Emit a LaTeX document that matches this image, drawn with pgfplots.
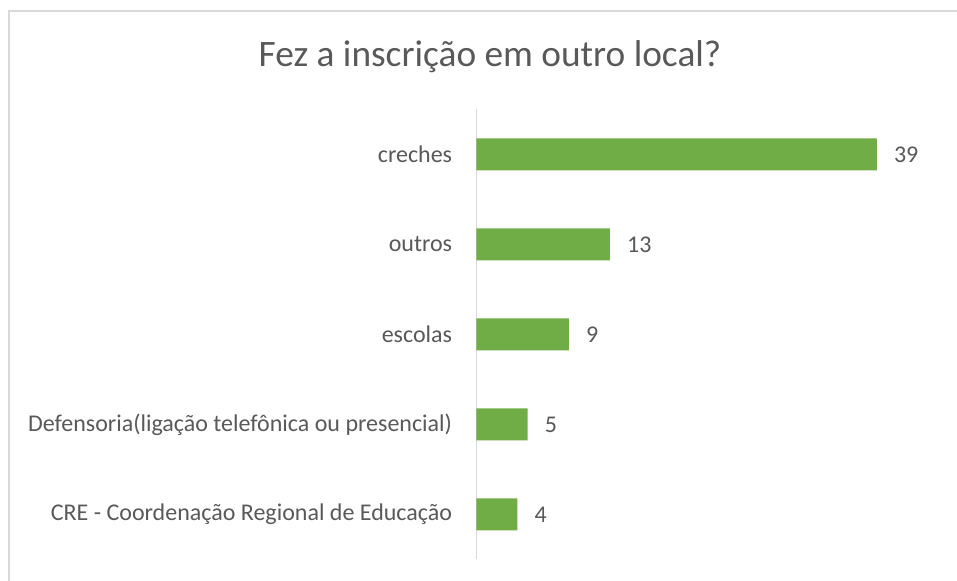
\documentclass[border=0pt]{standalone}
\usepackage{fontspec}
\setmainfont{Carlito}
\usepackage{pgfplots}
\pgfplotsset{compat=1.18}
\definecolor{txt}{HTML}{595959}
\definecolor{bargreen}{HTML}{70AD47}
\definecolor{rulegray}{HTML}{D9D9D9}
\begin{document}
\begin{tikzpicture}[x=0.75pt,y=0.75pt]
\useasboundingbox (0,0) rectangle (957,581);
\fill[white] (0,0) rectangle (957,581);
% chart frame (cut off at right and bottom in the reference)
\draw[rulegray, line width=1.5pt] (8.5,0) -- (8.5,570) -- (957,570);
\node[text=txt, font=\fontsize{28}{32}\selectfont] at (490,524) {Fez a inscrição em outro local?};
\begin{axis}[
  at={(464,24)}, anchor=south west,
  scale only axis,
  width=346.5pt, height=337.5pt,
  xmin=0, xmax=45, ymin=-0.5, ymax=4.5,
  xbar, bar width=24pt,
  hide x axis,
  axis y line*=left,
  y axis line style={draw=rulegray, line width=1.1pt, -},
  ytick={0,...,4},
  yticklabels={CRE - Coordenação Regional de Educação, Defensoria(ligação telefônica ou presencial), escolas, outros, creches},
  major tick length=0pt,
  yticklabel style={font=\fontsize{18}{22}\selectfont, text=txt, inner sep=0pt, xshift=-18pt},
  nodes near coords,
  /pgf/number format/assume math mode=true,
  every node near coord/.append style={font=\fontsize{18}{22}\selectfont, text=txt, inner sep=0pt, anchor=west, xshift=12.75pt},
  clip=false,
]
\addplot[fill=bargreen, draw=none] coordinates {(4,0) (5,1) (9,2) (13,3) (39,4)};
\end{axis}
\end{tikzpicture}
\end{document}
